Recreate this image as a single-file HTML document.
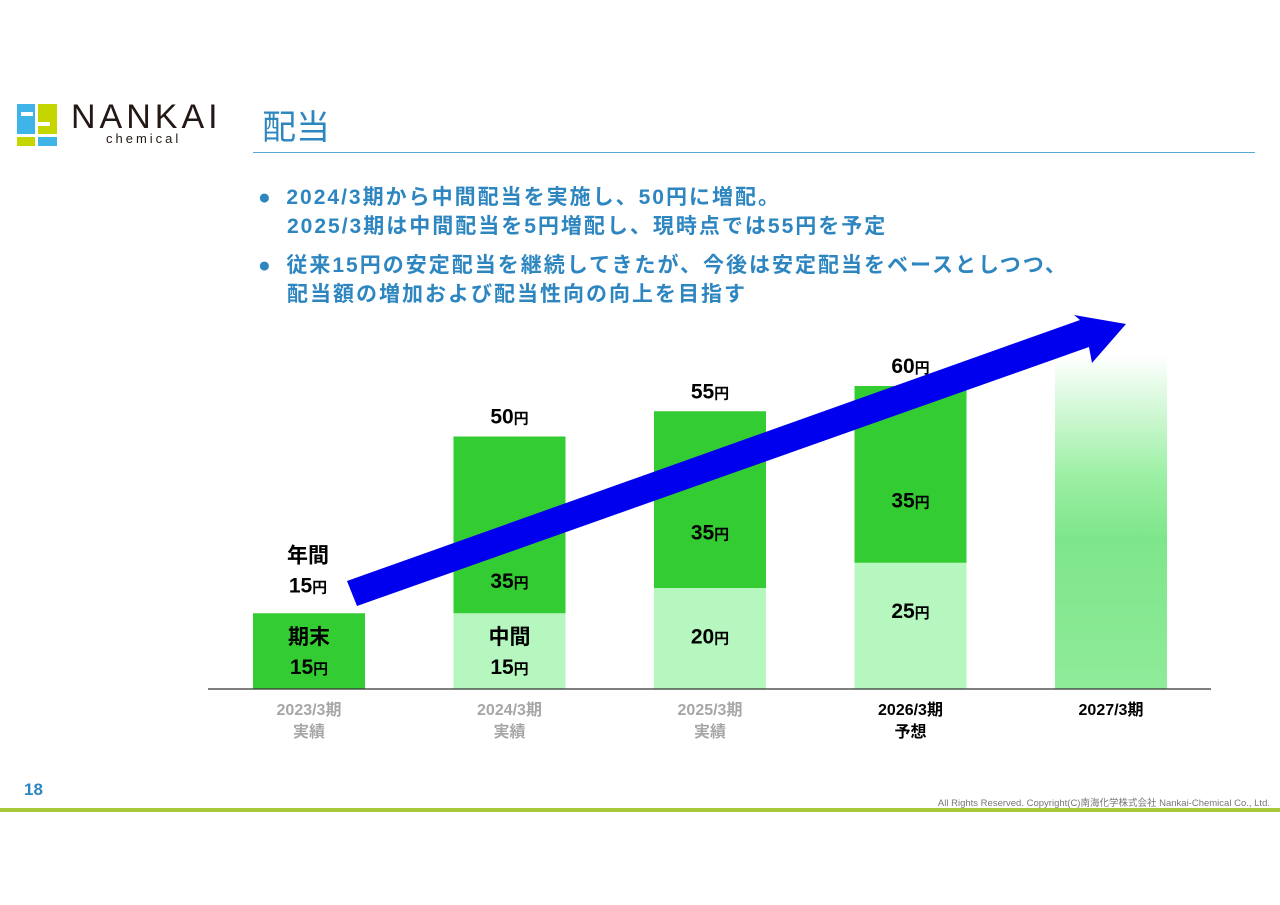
<!DOCTYPE html>
<html><head><meta charset="utf-8">
<style>
body{margin:0;width:1280px;height:905px;background:#fff;font-family:"Liberation Sans","Noto Sans CJK JP",sans-serif;position:relative;overflow:hidden}
.abs{position:absolute}
.bl{color:#2e86c1;font-weight:bold;font-size:21px;line-height:29px;letter-spacing:2px;white-space:nowrap}
</style></head><body>
<div class="abs" style="left:17px;top:104px;width:40px;height:42px">
 <div class="abs" style="left:0;top:0;width:18px;height:30px;background:#3fb4e8"></div>
 <div class="abs" style="left:21px;top:0;width:19px;height:30px;background:#c5d500"></div>
 <div class="abs" style="left:0;top:33px;width:18px;height:9px;background:#c5d500"></div>
 <div class="abs" style="left:21px;top:33px;width:19px;height:9px;background:#3fb4e8"></div>
 <div class="abs" style="left:4px;top:8px;width:12px;height:4px;background:#fff"></div>
 <div class="abs" style="left:21px;top:18px;width:12px;height:4px;background:#fff"></div>
</div>
<div class="abs" style="left:71px;top:98px;font-size:34px;letter-spacing:4px;color:#231815">NANKAI</div>
<div class="abs" style="left:106px;top:131px;font-size:13px;letter-spacing:3px;color:#231815">chemical</div>
<div class="abs" style="left:262px;top:100px;font-size:34px;color:#2e86c1">配当</div>
<div class="abs" style="left:253px;top:152px;width:1002px;height:1px;background:#5aa7d6"></div>
<div class="abs bl" style="left:258px;top:183px"><span style="letter-spacing:0">●</span>&nbsp;&nbsp;2024/3期から中間配当を実施し、50円に増配。</div>
<div class="abs bl" style="left:287px;top:212px">2025/3期は中間配当を5円増配し、現時点では55円を予定</div>
<div class="abs bl" style="left:258px;top:251px"><span style="letter-spacing:0">●</span>&nbsp;&nbsp;従来15円の安定配当を継続してきたが、今後は安定配当をベースとしつつ、</div>
<div class="abs bl" style="left:287px;top:280px">配当額の増加および配当性向の向上を目指す</div>

<svg class="abs" style="left:0;top:0" width="1280" height="905">
<defs><linearGradient id="gg" x1="0" y1="0" x2="0" y2="1">
<stop offset="0" stop-color="#fff"/><stop offset="0.35" stop-color="#9ef0a6"/><stop offset="0.55" stop-color="#7ee68a"/><stop offset="1" stop-color="#8feb99"/></linearGradient></defs>
<g id="bars"></g>
<line x1="208" y1="689" x2="1211" y2="689" stroke="#333" stroke-width="1.2"/>
<polygon fill="#0000ee" points="347,581 1080,320 1074,315 1126,324 1092,363 1089,347 357,606"/>
<g id="labels"></g>
</svg>

<div class="abs" style="left:24px;top:780px;font-size:17px;font-weight:bold;color:#2e86c1">18</div>
<div class="abs" style="right:10px;top:795px;font-size:9.5px;color:#777">All Rights Reserved. Copyright(C)南海化学株式会社 Nankai-Chemical Co., Ltd.</div>
<div class="abs" style="left:0;top:808px;width:1280px;height:4px;background:#a8c83c"></div>

<script>
const categories=["2023/3期","2024/3期","2025/3期","2026/3期","2027/3期"];
const subLabels=["実績","実績","実績","予想",""];
const interimValues=[0,15,20,25];
const finalValues=[15,35,35,35];
const totals=[15,50,55,60];
const interimLabels=["","中間\n15","20","25"];
const finalLabels=["期末\n15","35","35","35"];
const ghostValue=66;
const finalLabelShift=[0,55,32,25];
const interimLabelShift=[0,0,-3,-16];
const base=689,k=5.05,x0=253,step=200.5,bw=112;
function y(v){return base-v*k;}
function xc(i){return x0+i*step;}
const NS="http://www.w3.org/2000/svg";
const gb=document.getElementById('bars'),gl=document.getElementById('labels');
function rect(x,y1,h,fill,name){const r=document.createElementNS(NS,'rect');
r.setAttribute('x',x);r.setAttribute('y',y1);r.setAttribute('width',bw);r.setAttribute('height',h);r.setAttribute('fill',fill);


gb.appendChild(r);}
function label(text,cx,cy,color,name,yen){const lines=text.split("\n");
lines.forEach((ln,j)=>{const t=document.createElementNS(NS,'text');
t.setAttribute('x',cx);t.setAttribute('y',cy+j*30-(lines.length-1)*15);t.setAttribute('text-anchor','middle');
t.setAttribute('font-size','21');t.setAttribute('font-weight','bold');t.setAttribute('fill',color);


if(yen&&j==lines.length-1){t.innerHTML=ln+'<tspan font-size="15">円</tspan>';}else t.textContent=ln;
gl.appendChild(t);});}
for(let i=0;i<totals.length;i++){
 const x=xc(i),mid=x+bw/2;
 if(interimValues[i]>0){rect(x,y(interimValues[i]),interimValues[i]*k,'#b5f7be','bar-interim-'+i);}
 rect(x,y(interimValues[i]+finalValues[i]),finalValues[i]*k,'#33cc33','bar-final-'+i);
 if(interimLabels[i])label(interimLabels[i],mid,(y(0)+y(interimValues[i]))/2+8+interimLabelShift[i],'#000','interim-label-'+i,true);
 label(finalLabels[i],mid,(y(interimValues[i])+y(interimValues[i]+finalValues[i]))/2+8+finalLabelShift[i],'#000','final-label-'+i,true);
 if(i==0)label("年間\n"+totals[i],308,y(totals[i])-36,'#000','total-label-'+i,true);
 else label(String(totals[i]),mid,y(totals[i])-13,'#000','total-label-'+i,true);
}
rect(xc(4),y(ghostValue),ghostValue*k,'url(#gg)','bar-forecast-2027');
categories.forEach((c,i)=>{const col=i<3?'#a6a6a6':'#000';const mid=xc(i)+bw/2;
 const t=document.createElementNS(NS,'text');t.setAttribute('x',mid);t.setAttribute('y',715);t.setAttribute('text-anchor','middle');
 t.setAttribute('font-size','16');t.setAttribute('font-weight','bold');t.setAttribute('fill',col);t.textContent=c;
 
 
 gl.appendChild(t);
 if(subLabels[i]){const s=document.createElementNS(NS,'text');s.setAttribute('x',mid);s.setAttribute('y',737);s.setAttribute('text-anchor','middle');
 s.setAttribute('font-size','16');s.setAttribute('font-weight','bold');s.setAttribute('fill',col);s.textContent=subLabels[i];
 
 
 gl.appendChild(s);}
});
</script>
</body></html>
